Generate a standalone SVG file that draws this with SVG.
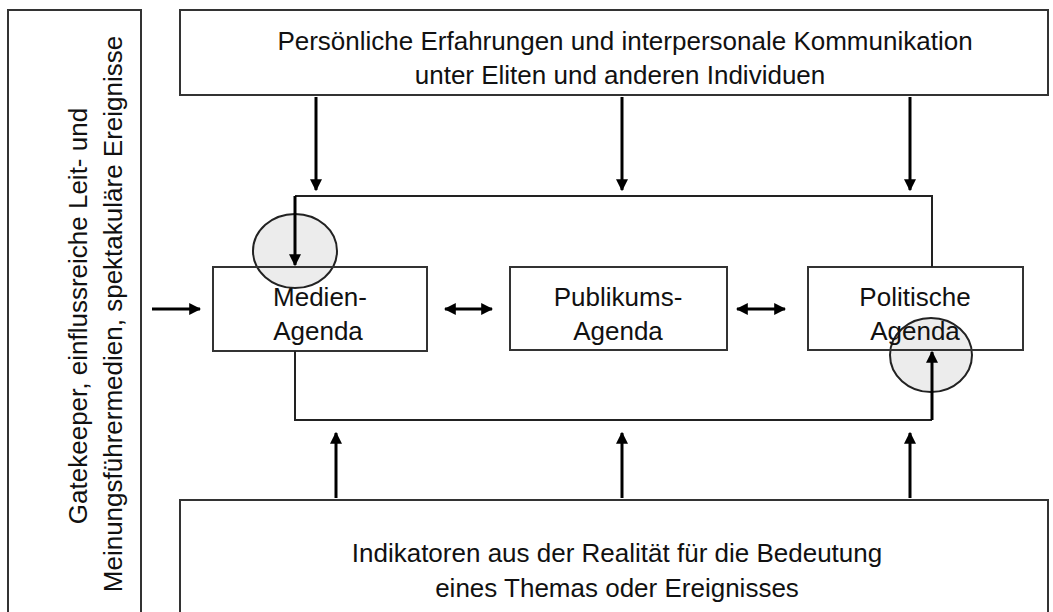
<svg xmlns="http://www.w3.org/2000/svg" width="1053" height="612" viewBox="0 0 1053 612">
<defs>
<style>
.box{fill:none;stroke:#333;stroke-width:2}
.txt{font-family:"Liberation Sans",Arial,sans-serif;font-size:26px;fill:#111;text-anchor:middle}
.arr{stroke:#000;stroke-width:3;fill:none}
.ln{stroke:#222;stroke-width:2;fill:none}
.circ{fill:#ececec;stroke:#222;stroke-width:2}
</style>
<marker id="ah" viewBox="0 0 10 10" refX="9" refY="5" markerWidth="4" markerHeight="4" orient="auto-start-reverse" markerUnits="strokeWidth">
<path d="M0,0 L10,5 L0,10 z" fill="#000"/>
</marker>
</defs>
<rect width="1053" height="612" fill="#fff"/>
<g id="highlights">
<ellipse class="circ" cx="295" cy="251" rx="42" ry="37"/>
<ellipse class="circ" cx="931" cy="355" rx="41" ry="37"/>
</g>
<g id="left-box">
<rect class="box" x="8" y="10" width="133" height="612"/>
<text class="txt" transform="translate(87,316) rotate(-90)">Gatekeeper, einflussreiche Leit- und</text>
<text class="txt" transform="translate(122,314) rotate(-90)">Meinungsführermedien, spektakuläre Ereignisse</text>
</g>
<g id="top-box">
<rect class="box" x="180" y="10" width="868" height="85"/>
<text class="txt" x="625" y="50">Persönliche Erfahrungen und interpersonale Kommunikation</text>
<text class="txt" x="620" y="84">unter Eliten und anderen Individuen</text>
</g>
<g id="bottom-box">
<rect class="box" x="180" y="500" width="868" height="122"/>
<text class="txt" x="617" y="562">Indikatoren aus der Realität für die Bedeutung</text>
<text class="txt" x="617" y="597">eines Themas oder Ereignisses</text>
</g>
<g id="medien">
<rect class="box" x="213" y="267" width="214" height="84"/>
<text class="txt" x="320" y="306">Medien-</text>
<text class="txt" x="318" y="340">Agenda</text>
</g>
<g id="publikum">
<rect class="box" x="510" y="267" width="217" height="83"/>
<text class="txt" x="618" y="306">Publikums-</text>
<text class="txt" x="618" y="340">Agenda</text>
</g>
<g id="politik">
<rect class="box" x="808" y="267" width="215" height="83"/>
<text class="txt" x="915" y="306">Politische</text>
<text class="txt" x="915" y="340">Agenda</text>
</g>
<g id="connectors">
<path class="ln" d="M932,267 V196 H295"/>
<path class="arr" d="M295,196 V265" marker-end="url(#ah)"/>
<path class="ln" d="M295,351 V420 H932"/>
<path class="arr" d="M932,420 V352" marker-end="url(#ah)"/>
<path class="arr" d="M316,97 V190" marker-end="url(#ah)"/>
<path class="arr" d="M622,97 V190" marker-end="url(#ah)"/>
<path class="arr" d="M910,97 V190" marker-end="url(#ah)"/>
<path class="arr" d="M336,498 V433" marker-end="url(#ah)"/>
<path class="arr" d="M622,498 V433" marker-end="url(#ah)"/>
<path class="arr" d="M910,498 V433" marker-end="url(#ah)"/>
<path class="arr" d="M152,309 H200" marker-end="url(#ah)"/>
<path class="arr" d="M445,309 H492" marker-start="url(#ah)" marker-end="url(#ah)"/>
<path class="arr" d="M737,309 H785" marker-start="url(#ah)" marker-end="url(#ah)"/>
</g>
</svg>
